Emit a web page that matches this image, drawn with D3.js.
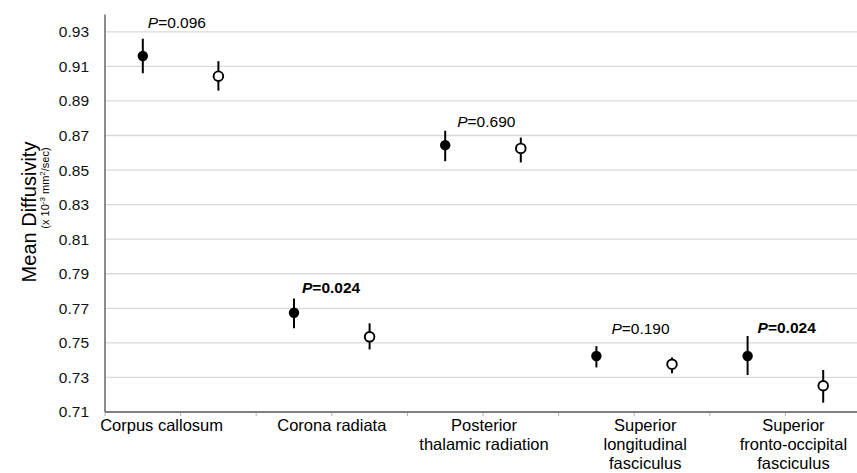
<!DOCTYPE html>
<html>
<head>
<meta charset="utf-8">
<script src="https://cdn.jsdelivr.net/npm/d3@7"></script>
<style>
  body { margin: 0; background: #fff; }
  text { font-family: "Liberation Sans", Arial, sans-serif; fill: #000; }
</style>
</head>
<body>
<script>
// data
let categories = ["Corpus callosum", "Corona radiata", "Posterior\nthalamic radiation",
  "Superior\nlongitudinal\nfasciculus", "Superior\nfronto-occipital\nfasciculus"];
let groups = ["filled", "open"];
let filledMean = [0.916, 0.7674, 0.8644, 0.7424, 0.7424];
let filledLow  = [0.906, 0.7584, 0.8551, 0.7358, 0.7314];
let filledHigh = [0.926, 0.7757, 0.8727, 0.7481, 0.7540];
let openMean = [0.9043, 0.7535, 0.8625, 0.7376, 0.7252];
let openLow  = [0.896, 0.7462, 0.8544, 0.7324, 0.7154];
let openHigh = [0.913, 0.7613, 0.8688, 0.7416, 0.7343];
let pValues = ["0.096", "0.024", "0.690", "0.190", "0.024"];
let pBold = [false, true, false, false, true];
let pLevel = [0.932, 0.7788, 0.8748, 0.7551, 0.7557];
let yTicks = [0.71, 0.73, 0.75, 0.77, 0.79, 0.81, 0.83, 0.85, 0.87, 0.89, 0.91, 0.93];

// layout
let width = 857, height = 473;
let plotLeft = 105, plotRight = 861, plotTop = 14.5, plotBottom = 412;
let pDx = [5, 8, 12, 15, 10];
let labelDx = [-19, 0, 1, 11, 8];

let svg = d3.select("body").append("svg")
  .attr("width", width)
  .attr("height", height);

let y = d3.scaleLinear().domain([0.71, 0.94]).range([plotBottom, plotTop]);
let x0 = d3.scaleBand().domain(categories).range([plotLeft, plotRight]);
let x1 = d3.scaleBand().domain(groups).range([0, x0.bandwidth()]);

// gridlines
svg.append("g")
  .selectAll("line")
  .data(yTicks.slice(1))
  .enter().append("line")
  .attr("x1", plotLeft).attr("x2", width)
  .attr("y1", d => y(d)).attr("y2", d => y(d))
  .style("stroke", "#d9d9d9")
  .style("stroke-width", 1.3);

// y axis
let yAxis = svg.append("g")
  .attr("transform", "translate(" + plotLeft + ",0)")
  .call(d3.axisLeft(y).tickValues(yTicks).tickFormat(d3.format(".2f")).tickSize(0).tickPadding(16));
yAxis.select(".domain").remove();
yAxis.selectAll("text")
  .style("font-size", "15.5px")
  .style("fill", "#111")
  .style("font-family", "Liberation Sans, Arial, sans-serif");
svg.append("line")
  .attr("x1", plotLeft).attr("x2", plotLeft)
  .attr("y1", plotTop).attr("y2", plotBottom)
  .style("stroke", "#7f7f7f")
  .style("stroke-width", 1.8);

// x axis with ticks between every point
let tickX = [];
categories.forEach(c => groups.forEach(g => tickX.push(x0(c) + x1(g))));
tickX.push(plotRight);
svg.append("g")
  .selectAll("line")
  .data(tickX)
  .enter().append("line")
  .attr("x1", d => d).attr("x2", d => d)
  .attr("y1", plotBottom).attr("y2", plotBottom + 4)
  .style("stroke", "#b0b0b0")
  .style("stroke-width", 1);
svg.append("line")
  .attr("x1", plotLeft).attr("x2", width)
  .attr("y1", plotBottom).attr("y2", plotBottom)
  .style("stroke", "#7f7f7f")
  .style("stroke-width", 1.8);

// category labels
let catLabels = svg.append("g")
  .selectAll("text")
  .data(categories)
  .enter().append("text")
  .attr("text-anchor", "middle")
  .style("font-size", "16.5px")
  .attr("transform", (d, i) => "translate(" + (x0(d) + x0.bandwidth() / 2 + labelDx[i]) + "," + (plotBottom + 19) + ")");
catLabels.selectAll("tspan")
  .data(d => d.split("\n"))
  .enter().append("tspan")
  .attr("x", 0)
  .attr("y", (d, i) => i * 19)
  .text(d => d);

// points
let rows = categories.map((c, i) => [
  { c: c, g: "filled", m: filledMean[i], lo: filledLow[i], hi: filledHigh[i] },
  { c: c, g: "open", m: openMean[i], lo: openLow[i], hi: openHigh[i] }
]).flat();

let pts = svg.append("g")
  .selectAll("g")
  .data(rows)
  .enter().append("g")
  .attr("transform", d => "translate(" + (x0(d.c) + x1(d.g) + x1.bandwidth() / 2) + ",0)");
pts.append("line")
  .attr("y1", d => y(d.lo)).attr("y2", d => y(d.hi))
  .style("stroke", "#000")
  .style("stroke-width", 2);
pts.append("circle")
  .attr("cy", d => y(d.m))
  .attr("r", d => d.g == "filled" ? 5.2 : 4.8)
  .style("fill", d => d.g == "filled" ? "#000" : "#fff")
  .style("stroke", "#000")
  .style("stroke-width", d => d.g == "filled" ? 0 : 1.9);

// p value annotations
let pt = svg.append("g")
  .selectAll("text")
  .data(categories)
  .enter().append("text")
  .attr("x", (d, i) => x0(d) + x1("filled") + x1.bandwidth() / 2 + pDx[i])
  .attr("y", (d, i) => y(pLevel[i]))
  .style("font-size", "15.5px")
  .style("font-weight", (d, i) => pBold[i] ? "bold" : "normal");
pt.append("tspan").style("font-style", "italic").text("P");
pt.append("tspan").text((d, i) => "=" + pValues[i]);

// axis title
let title = svg.append("g").attr("transform", "translate(36,212) rotate(-90)");
title.append("text")
  .attr("text-anchor", "middle")
  .style("font-size", "20px")
  .text("Mean Diffusivity");
let sub = svg.append("text")
  .attr("transform", "translate(49,188) rotate(-90)")
  .attr("text-anchor", "middle")
  .style("font-size", "11px");
sub.append("tspan").text("(x 10");
sub.append("tspan").attr("dy", -4).style("font-size", "8px").text("-3");
sub.append("tspan").attr("dy", 4).text(" mm");
sub.append("tspan").attr("dy", -4).style("font-size", "8px").text("2");
sub.append("tspan").attr("dy", 4).text("/sec)");
</script>
</body>
</html>
